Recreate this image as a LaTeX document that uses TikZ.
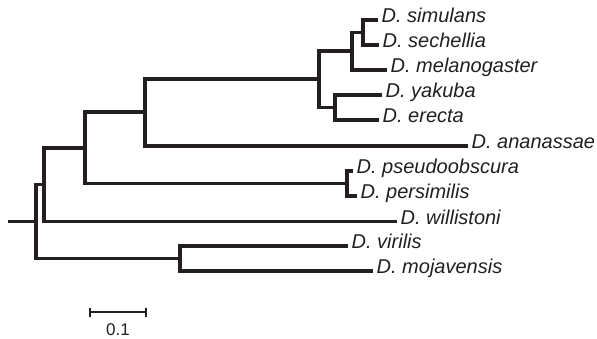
\documentclass[tikz,border=0pt]{standalone}
\usepackage{fontspec}
\setmainfont{Liberation Sans}
\usepackage{xcolor}
\definecolor{ink}{HTML}{231F20}
\usetikzlibrary{arrows.meta, positioning, calc}

\begin{document}
\begin{tikzpicture}[x=1pt, y=-1pt,
        branch/.style={line width=3.4pt, draw=ink},
        taxon/.style={anchor=mid west, inner xsep=3.5pt, inner ysep=0pt, text=ink,
                font=\fontsize{20}{22}\selectfont\itshape},
        scalebar/.style={line width=1.8pt, draw=ink, {Bar[width=9pt]}-{Bar[width=9pt]}},
        scalelabel/.style={text=ink, inner sep=0pt, font=\fontsize{17}{19}\selectfont}]

        \useasboundingbox (0,0) rectangle (597,339);

        \coordinate (stub) at (8,221.5);
        \coordinate (root) at (36,221.5);
        \coordinate (nA) at (44,184.5);
        \coordinate (nB) at (85,148);
        \coordinate (nC) at (145,112);
        \coordinate (nE) at (319,79);
        \coordinate (nMel) at (352,51);
        \coordinate (nSS) at (363,32.5);
        \coordinate (nYE) at (335,107.5);
        \coordinate (nPs) at (347,183.5);
        \coordinate (nVM) at (180,258.5);

        \node[taxon] (sim) at (378,20) {D. simulans};
        \node[taxon] (sec) at (379,45) {D. sechellia};
        \node[taxon] (mel) at (387,70) {D. melanogaster};
        \node[taxon] (yak) at (382,95) {D. yakuba};
        \node[taxon] (ere) at (379,120) {D. erecta};
        \node[taxon] (ana) at (468,146) {D. ananassae};
        \node[taxon] (pse) at (353,171) {D. pseudoobscura};
        \node[taxon] (per) at (357,196) {D. persimilis};
        \node[taxon] (wil) at (397,221.5) {D. willistoni};
        \node[taxon] (vir) at (348,246) {D. virilis};
        \node[taxon] (moj) at (373,271) {D. mojavensis};

        \draw[branch] (stub) -- (root);
        \draw[branch] (root) |- (nA);
        \draw[branch] (root) |- (nVM);
        \draw[branch] (nA) |- (nB);
        \draw[branch] (nA) |- (wil.mid west);
        \draw[branch] (nB) |- (nC);
        \draw[branch] (nB) |- (nPs);
        \draw[branch] (nC) |- (nE);
        \draw[branch] (nC) |- (ana.mid west);
        \draw[branch] (nE) |- (nMel);
        \draw[branch] (nE) |- (nYE);
        \draw[branch] (nMel) |- (nSS);
        \draw[branch] (nMel) |- (mel.mid west);
        \draw[branch] (nSS) |- (sim.mid west);
        \draw[branch] (nSS) |- (sec.mid west);
        \draw[branch] (nYE) |- (yak.mid west);
        \draw[branch] (nYE) |- (ere.mid west);
        \draw[branch] (nPs) |- (pse.mid west);
        \draw[branch] (nPs) |- (per.mid west);
        \draw[branch] (nVM) |- (vir.mid west);
        \draw[branch] (nVM) |- (moj.mid west);

        \coordinate (barL) at (89,312);
        \coordinate (barR) at (147,312);
        \draw[scalebar] (barL) -- (barR);
        \node[scalelabel] (barlabel) at (118,330) {0.1};
\end{tikzpicture}
\end{document}
